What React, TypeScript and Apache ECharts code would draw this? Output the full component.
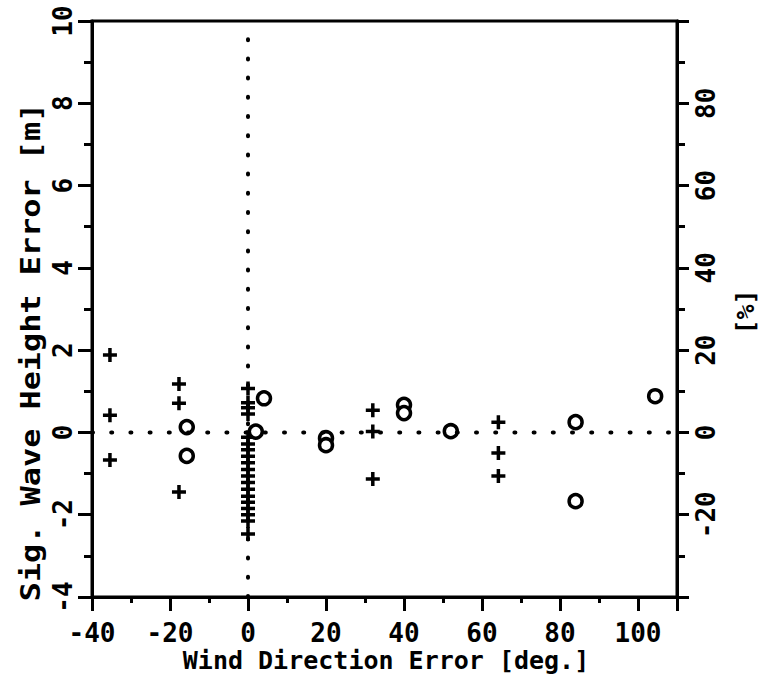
import React, { useEffect, useRef } from "react";
import * as echarts from "echarts";

const plusX = [-35.4, -35.4, -35.4, -17.7, -17.7, -17.7, 0, 0, 0, 0, 0, 0, 0, 0, 0, 0, 0, 0, 0, 0, 0, 0, 0, 0, 0, 32, 32, 32, 64.2, 64.2, 64.2];
const plusY = [1.88, 0.42, -0.67, 1.18, 0.71, -1.45, 1.07, 0.72, 0.6, 0.45, -0.12, -0.28, -0.42, -0.58, -0.74, -0.9, -1.06, -1.22, -1.38, -1.55, -1.7, -1.85, -2.0, -2.15, -2.47, 0.54, 0.02, -1.13, 0.25, -0.5, -1.06];
const circleX = [-15.7, -15.7, 4.1, 2.0, 20, 20, 40, 40, 52, 84, 84, 104.4];
const circleY = [0.13, -0.57, 0.83, 0.02, -0.14, -0.31, 0.67, 0.47, 0.03, 0.25, -1.67, 0.88];

const xTitle = "Wind Direction Error [deg.]";
const yTitle = "Sig. Wave Height Error [m]";
const y2Title = "[%]";

const FONT = "DejaVu Sans Mono";
const PLUS = "path://M4.5,0H7.5V4.5H12V7.5H7.5V12H4.5V7.5H0V4.5H4.5Z";

export default function App() {
  const ref = useRef<HTMLDivElement>(null);
  useEffect(() => {
    if (!ref.current) return;
    const chart = echarts.init(ref.current, undefined, { renderer: "svg" });
    const labelStyle = { fontFamily: FONT, fontWeight: "bold" as const, fontSize: 26, color: "#000" };
    const axisLine = { show: true, onZero: false, lineStyle: { color: "#000", width: 3 } };
    chart.setOption({
      animation: false,
      backgroundColor: "#fff",
      grid: { left: 92, top: 21, right: 87, bottom: 81, show: true, borderColor: "#000", borderWidth: 3, backgroundColor: "transparent" },
      xAxis: {
        type: "value", min: -40, max: 110, interval: 20,
        axisLine,
        axisTick: { show: true, inside: false, length: 14, lineStyle: { color: "#000", width: 3 } },
        minorTick: { show: true, splitNumber: 2, length: 6, lineStyle: { color: "#000", width: 3 } },
        splitLine: { show: false },
        axisLabel: { ...labelStyle, margin: 23, formatter: (v: number) => (v > 100 ? "" : String(v)) },
      },
      yAxis: [
        {
          type: "value", min: -4, max: 10, interval: 2, position: "left",
          axisLine,
          axisTick: { show: true, inside: false, length: 14, lineStyle: { color: "#000", width: 3 } },
          minorTick: { show: true, splitNumber: 2, length: 8, lineStyle: { color: "#000", width: 3 } },
          splitLine: { show: false },
          axisLabel: { ...labelStyle, rotate: 90, margin: 16 },
        },
        {
          type: "value", min: -40, max: 100, interval: 20, position: "right",
          axisLine,
          axisTick: { show: true, inside: false, length: 12, lineStyle: { color: "#000", width: 3 } },
          minorTick: { show: true, splitNumber: 2, length: 8, lineStyle: { color: "#000", width: 3 } },
          splitLine: { show: false },
          axisLabel: { ...labelStyle, rotate: 90, margin: 16, formatter: (v: number) => (v <= -40 || v >= 100 ? "" : String(v)) },
        },
      ],
      graphic: [
        { type: "text", x: 386, y: 660, style: { text: xTitle, fontFamily: FONT, fontWeight: "bold", fontSize: 25, fill: "#000", align: "center", verticalAlign: "middle" } },
        { type: "text", x: 31, y: 352, rotation: Math.PI / 2, scaleX: 1.18, style: { text: yTitle, fontFamily: FONT, fontWeight: "bold", fontSize: 27, fill: "#000", align: "center", verticalAlign: "middle" } },
        { type: "text", x: 745, y: 312, rotation: Math.PI / 2, style: { text: y2Title, fontFamily: FONT, fontWeight: "bold", fontSize: 25, fill: "#000", align: "center", verticalAlign: "middle" } },
      ],
      series: [
        {
          type: "line", silent: true, symbol: "none",
          data: [[-40, 0], [110, 0]],
          lineStyle: { color: "#000", width: 4, type: [1, 18.2], cap: "round" },
        },
        {
          type: "line", silent: true, symbol: "none",
          data: [[0, -4], [0, 10]],
          lineStyle: { color: "#000", width: 4, type: [1, 18.2], cap: "round" },
        },
        {
          type: "scatter", symbol: PLUS, symbolSize: 14,
          itemStyle: { color: "#000", opacity: 1 },
          data: plusX.map((x, i) => [x, plusY[i]]),
        },
        {
          type: "scatter", symbol: "circle", symbolSize: 13,
          itemStyle: { color: "#fff", borderColor: "#000", borderWidth: 3.5, opacity: 1 },
          data: circleX.map((x, i) => [x, circleY[i]]),
        },
      ],
    });
    return () => chart.dispose();
  }, []);
  return <div ref={ref} style={{ width: 764, height: 678, position: "absolute", left: 0, top: 0 }} />;
}
